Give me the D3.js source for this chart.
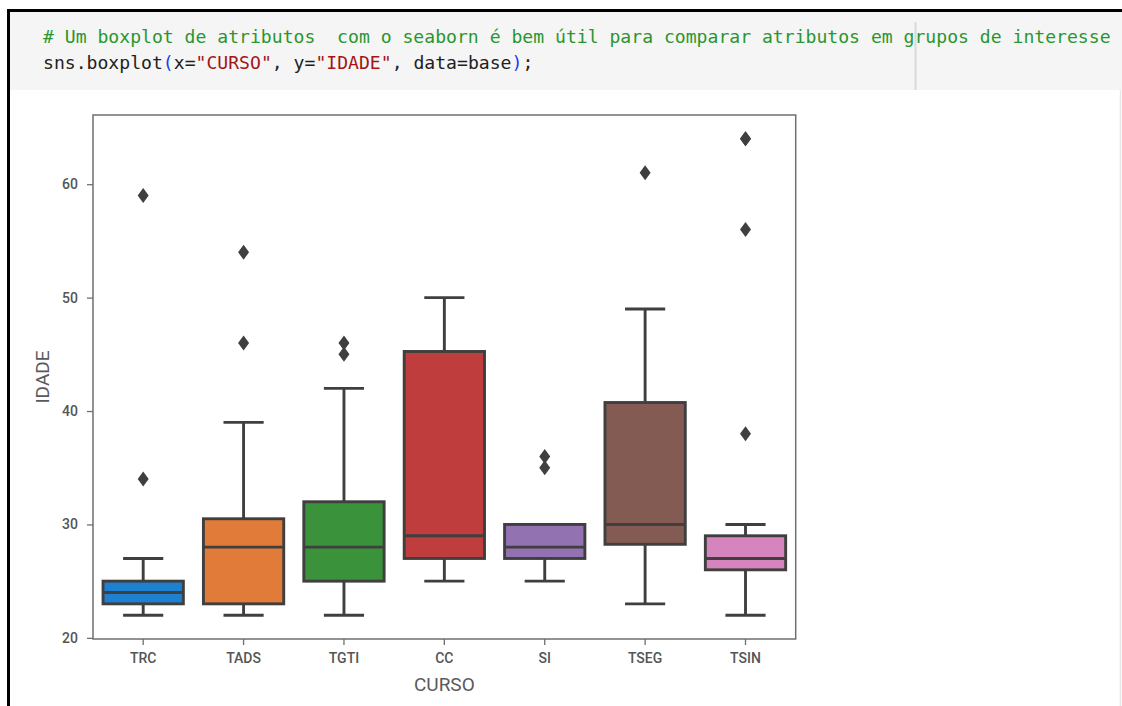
<!DOCTYPE html>
<html>
<head>
<meta charset="utf-8">
<script src="https://cdn.jsdelivr.net/npm/d3@7"></script>
<style>
  body { margin: 0; background: #fff; }
  svg { display: block; }
</style>
</head>
<body>
<div id="boxplot"></div>
<script>
// valores
const cursos   = ["TRC", "TADS", "TGTI", "CC", "SI", "TSEG", "TSIN"];
const whiskLo  = [22, 22, 22, 25, 25, 23, 22];
const q1       = [23, 23, 25, 27, 27, 28.25, 26];
const medianas = [24, 28, 28, 29, 28, 30, 27];
const q3       = [25, 30.5, 32, 45.25, 30, 40.75, 29];
const whiskHi  = [27, 39, 42, 50, 30, 49, 30];
const outliers = [[34, 59], [46, 54], [45, 46], [], [35, 36], [61], [38, 56, 64, 64]];
const yTicks   = [20, 30, 40, 50, 60];
const cores    = ["#1e80d0", "#e07b39", "#3a923a", "#c03d3e", "#9372b2", "#845b53", "#d684bd"];

const data = cursos.map((c, i) => ({
  curso: c, lo: whiskLo[i], q1: q1[i], med: medianas[i], q3: q3[i], hi: whiskHi[i], out: outliers[i]
}));

const width = 1122, height = 706;
const margin = {top: 115, right: 326.3, bottom: 67, left: 93};

const svg = d3.select("#boxplot").append("svg")
  .attr("width", width)
  .attr("height", height);

svg.append("rect").attr("width", width).attr("height", height).attr("fill", "#fff");

// celula do notebook
svg.append("rect")
  .attr("x", 9).attr("y", 12).attr("width", width - 9).attr("height", 78)
  .attr("fill", "#f5f5f5");
svg.append("line")
  .attr("x1", 915.5).attr("x2", 915.5).attr("y1", 22).attr("y2", 90)
  .attr("stroke", "#d9d9d9").attr("stroke-width", 2);
svg.append("line")
  .attr("x1", 1120.5).attr("x2", 1120.5).attr("y1", 90).attr("y2", height)
  .attr("stroke", "#e6e6e6").attr("stroke-width", 1.5);
svg.append("line")
  .attr("x1", 7).attr("x2", width).attr("y1", 10.5).attr("y2", 10.5)
  .attr("stroke", "#000").attr("stroke-width", 3);
svg.append("line")
  .attr("x1", 8.5).attr("x2", 8.5).attr("y1", 9).attr("y2", height)
  .attr("stroke", "#000").attr("stroke-width", 3);

const codeFont = "'DejaVu Sans Mono', monospace";
svg.append("text")
  .attr("x", 43).attr("y", 43)
  .style("font-family", codeFont).style("font-size", "18.1px")
  .style("white-space", "pre")
  .attr("fill", "#2a962e")
  .text("# Um boxplot de atributos  com o seaborn é bem útil para comparar atributos em grupos de interesse");

const line2 = [
  ["sns.boxplot", "#212121"], ["(", "#1a3cf0"], ["x=", "#212121"], ["\"CURSO\"", "#a31515"],
  [", y=", "#212121"], ["\"IDADE\"", "#a31515"], [", data=base", "#212121"], [")", "#1a3cf0"], [";", "#212121"]
];
svg.append("text")
  .attr("x", 43).attr("y", 69)
  .style("font-family", codeFont).style("font-size", "18.1px")
  .style("white-space", "pre")
  .selectAll("tspan").data(line2).join("tspan")
  .attr("fill", d => d[1])
  .text(d => d[0]);

// escalas
const x = d3.scaleBand()
  .domain(cursos)
  .range([margin.left, width - margin.right])
  .padding(0);

const y = d3.scaleLinear()
  .domain([19.9, 66.1])
  .range([height - margin.bottom, margin.top]);

const bw = x.bandwidth() * 0.8;
const dark = "#3f3f3f";
const lw = 2.9;

// eixos
const labelFont = "Roboto, sans-serif";
const yAxis = svg.append("g")
  .attr("transform", `translate(${margin.left},0)`)
  .call(d3.axisLeft(y).tickValues(yTicks).tickSize(6).tickPadding(9));
const xAxis = svg.append("g")
  .attr("transform", `translate(0,${height - margin.bottom})`)
  .call(d3.axisBottom(x).tickSize(6).tickPadding(8));

[xAxis, yAxis].forEach(g => {
  g.select(".domain").remove();
  g.selectAll(".tick line").attr("stroke", "#6f6f6f").attr("stroke-width", 1.3);
  g.selectAll(".tick text")
    .attr("fill", "#555")
    .style("font-family", labelFont)
    .style("font-weight", 500)
    .style("font-size", "14px");
});

// moldura
svg.append("rect")
  .attr("x", margin.left).attr("y", margin.top)
  .attr("width", width - margin.left - margin.right)
  .attr("height", height - margin.top - margin.bottom)
  .attr("fill", "none")
  .attr("stroke", "#6f6f6f")
  .attr("stroke-width", 1.5);

// caixas
const boxes = svg.append("g")
  .selectAll("g")
  .data(data)
  .join("g")
  .attr("transform", d => `translate(${x(d.curso) + x.bandwidth() / 2},0)`);

boxes.append("line")
  .attr("x1", 0).attr("x2", 0)
  .attr("y1", d => y(d.q1)).attr("y2", d => y(d.lo))
  .attr("stroke", dark).attr("stroke-width", lw);
boxes.append("line")
  .attr("x1", 0).attr("x2", 0)
  .attr("y1", d => y(d.q3)).attr("y2", d => y(d.hi))
  .attr("stroke", dark).attr("stroke-width", lw);
boxes.append("line")
  .attr("x1", -bw / 4).attr("x2", bw / 4)
  .attr("y1", d => y(d.lo)).attr("y2", d => y(d.lo))
  .attr("stroke", dark).attr("stroke-width", lw);
boxes.append("line")
  .attr("x1", -bw / 4).attr("x2", bw / 4)
  .attr("y1", d => y(d.hi)).attr("y2", d => y(d.hi))
  .attr("stroke", dark).attr("stroke-width", lw);

boxes.append("rect")
  .attr("x", -bw / 2)
  .attr("width", bw)
  .attr("y", d => y(d.q3))
  .attr("height", d => y(d.q1) - y(d.q3))
  .attr("fill", (d, i) => cores[i])
  .attr("stroke", dark).attr("stroke-width", lw);

boxes.append("line")
  .attr("x1", -bw / 2).attr("x2", bw / 2)
  .attr("y1", d => y(d.med)).attr("y2", d => y(d.med))
  .attr("stroke", dark).attr("stroke-width", lw);

// outliers (losangos)
boxes.selectAll("path.out")
  .data(d => d.out)
  .join("path")
  .attr("class", "out")
  .attr("d", v => `M0,${y(v) - 7.5}L5.5,${y(v)}L0,${y(v) + 7.5}L-5.5,${y(v)}Z`)
  .attr("fill", dark);

// titulos dos eixos
svg.append("text")
  .attr("x", x.range()[0] + (x.range()[1] - x.range()[0]) / 2)
  .attr("y", 691)
  .attr("text-anchor", "middle")
  .attr("fill", "#5a5a5a")
  .style("font-family", labelFont)
  .style("font-size", "19px")
  .text("CURSO");

svg.append("text")
  .attr("transform", `translate(49,${(margin.top + height - margin.bottom) / 2}) rotate(-90)`)
  .attr("text-anchor", "middle")
  .attr("fill", "#5a5a5a")
  .style("font-family", labelFont)
  .style("font-size", "19px")
  .text("IDADE");
</script>
</body>
</html>
